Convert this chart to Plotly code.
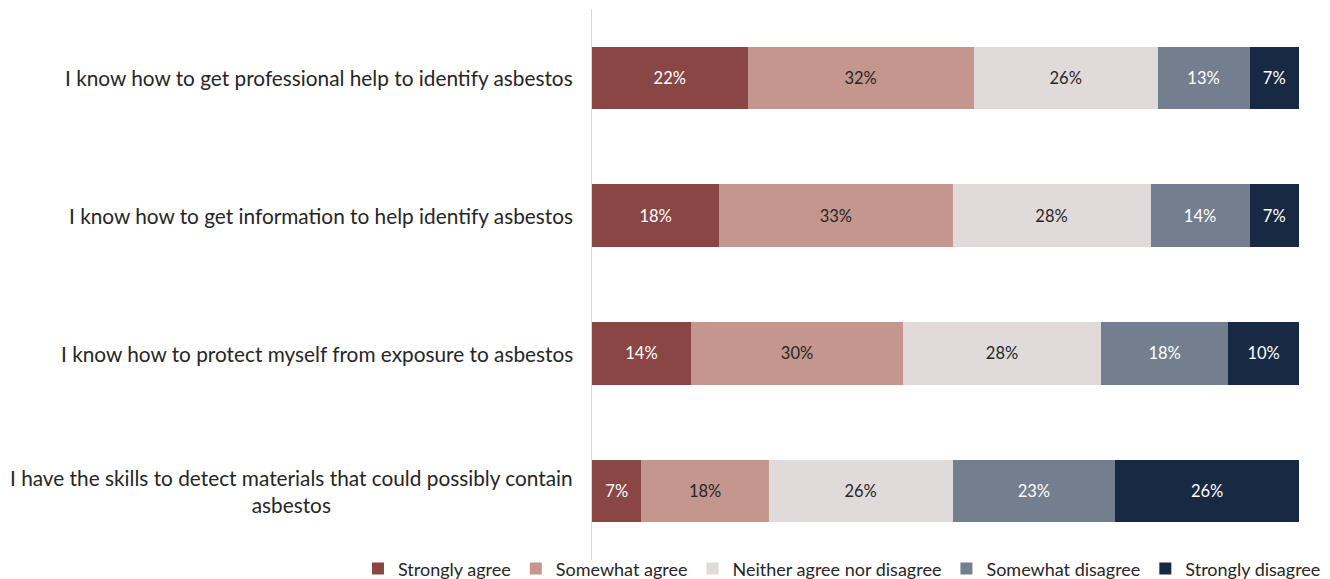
import plotly.graph_objects as go

# Survey statements (top to bottom)
statements = [
    "I know how to get professional help to identify asbestos",
    "I know how to get information to help identify asbestos",
    "I know how to protect myself from exposure to asbestos",
    "I have the skills to detect materials that could possibly contain<br>asbestos",
]

responses = [
    "Strongly agree",
    "Somewhat agree",
    "Neither agree nor disagree",
    "Somewhat disagree",
    "Strongly disagree",
]

strongly_agree = [22, 18, 14, 7]
somewhat_agree = [32, 33, 30, 18]
neither = [26, 28, 28, 26]
somewhat_disagree = [13, 14, 18, 23]
strongly_disagree = [7, 7, 10, 26]

series = [strongly_agree, somewhat_agree, neither, somewhat_disagree, strongly_disagree]
colors = ["#8a4644", "#c4968d", "#e0dbda", "#737f8f", "#182944"]
text_colors = ["#ffffff", "#262626", "#262626", "#ffffff", "#ffffff"]

cats = list(range(len(statements)))

fig = go.Figure()
for name, vals, col, tcol in zip(responses, series, colors, text_colors):
    fig.add_trace(go.Bar(
        y=cats,
        x=vals,
        name=name,
        orientation="h",
        marker=dict(color=col, line=dict(width=0)),
        text=[f"{v}%" for v in vals],
        textposition="inside",
        insidetextanchor="middle",
        textfont=dict(family="Lato", size=16.5, color=tcol),
        constraintext="none",
        hoverinfo="skip",
    ))

# Category labels as annotations so wrapped lines stay centered
for i, s in enumerate(statements):
    fig.add_annotation(
        x=0, xref="paper", y=i, yref="y",
        text=s, showarrow=False,
        xanchor="right", yanchor="middle", align="center",
        xshift=-17,
        font=dict(family="Lato", size=20.8, color="#262626"),
    )

fig.update_layout(
    barmode="stack",
    bargap=0.545,
    width=1330, height=579,
    margin=dict(l=592, r=31, t=9, b=19, autoexpand=False),
    paper_bgcolor="white",
    plot_bgcolor="white",
    font=dict(family="Lato", color="#262626"),
    showlegend=True,
    legend=dict(
        orientation="h",
        xref="paper", yref="paper",
        x=-0.331, xanchor="left",
        y=-0.016, yanchor="middle",
        font=dict(family="Lato", size=18, color="#262626"),
        traceorder="normal",
        itemclick=False,
        itemwidth=30,
        bgcolor="rgba(0,0,0,0)",
    ),
)
fig.update_xaxes(range=[0, 100], visible=False, fixedrange=True)
fig.update_yaxes(
    range=[3.5, -0.5],
    showticklabels=False,
    showgrid=False,
    zeroline=False,
    showline=True,
    linecolor="#d9d9d9",
    linewidth=1,
    fixedrange=True,
)

fig.write_html("out.html")
